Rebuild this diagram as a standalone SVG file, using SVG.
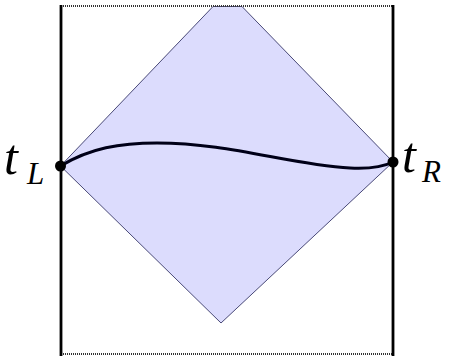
<svg xmlns="http://www.w3.org/2000/svg" width="449" height="356" viewBox="0 0 449 356">
<style>
.frame{stroke:#000;stroke-width:2.8;fill:none}
.dotted{stroke:#333;stroke-width:2;stroke-dasharray:1 1;fill:none}
.lbl{font-family:"Liberation Serif","DejaVu Serif",serif;font-style:italic;fill:#000}
.big{font-size:50px}
.sub{font-size:31px}
</style>
<rect width="449" height="356" fill="#fff"/>
<g id="diamond">
<polygon points="60.5,166 213,6.5 242,6.5 393,162 221,323" fill="#dcdcfd" stroke="#4a4a78" stroke-width="1"/>
</g>
<g id="frame">
<line class="dotted" x1="61" y1="6" x2="393" y2="6"/>
<line class="dotted" x1="61" y1="354" x2="393" y2="354"/>
<line class="frame" x1="61" y1="5" x2="61" y2="356"/>
<line class="frame" x1="393" y1="5" x2="393" y2="356"/>
</g>
<g id="connectors">
<path d="M60.5,166 C90,148 120,143 157,143 C230,143 290,165 350,168 C370,169 385,166 393,162" fill="none" stroke="#000018" stroke-width="3"/>
</g>
<g id="tL">
<circle cx="60.5" cy="166" r="5.5" fill="#000"/>
<text class="lbl big" x="4" y="174">t</text>
<text class="lbl sub" x="27" y="184">L</text>
</g>
<g id="tR">
<circle cx="393" cy="162" r="5.5" fill="#000"/>
<text class="lbl big" x="402" y="172">t</text>
<text class="lbl sub" x="422" y="182">R</text>
</g>
</svg>
